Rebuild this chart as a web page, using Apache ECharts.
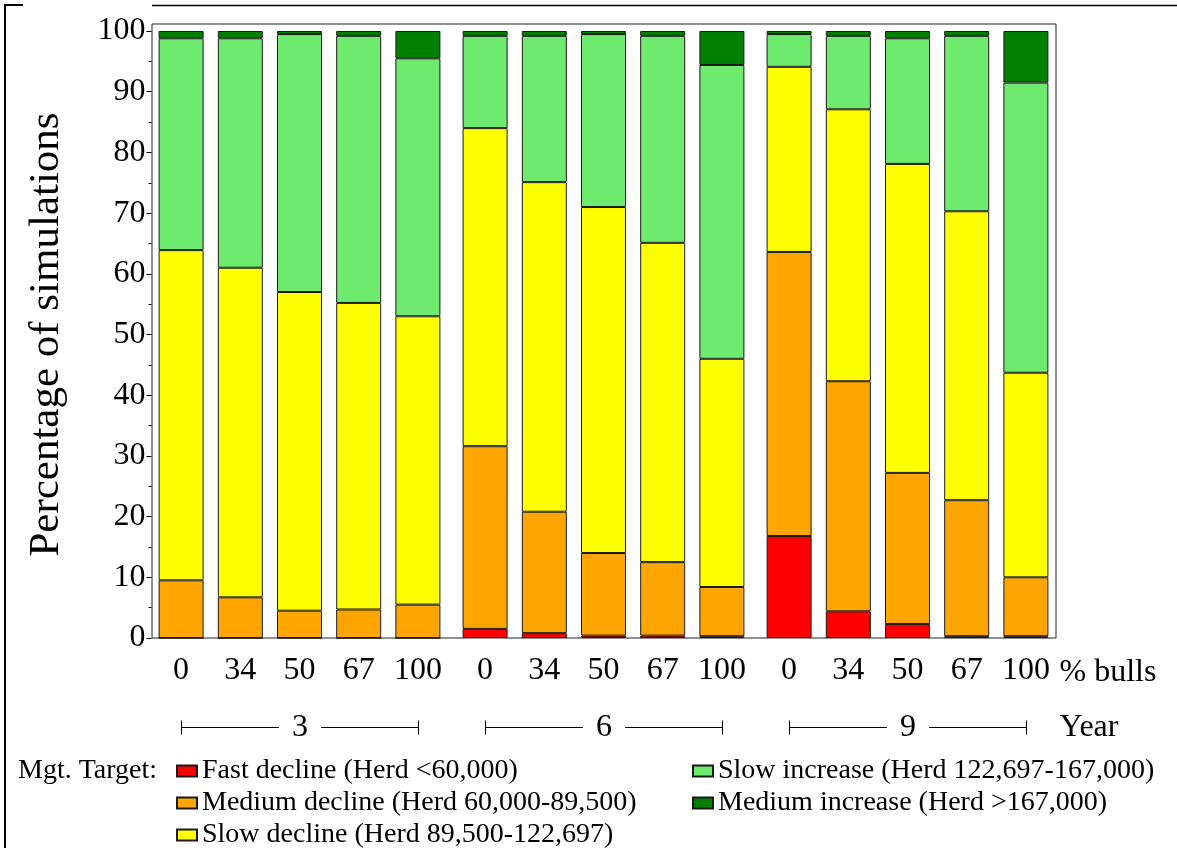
<!DOCTYPE html>
<html>
<head>
<meta charset="utf-8">
<script src="https://cdn.jsdelivr.net/npm/echarts@6/dist/echarts.min.js"></script>
<style>
  html, body { margin: 0; padding: 0; background: #fff; }
  #chart { width: 1177px; height: 848px; }
</style>
</head>
<body>
<div id="chart"></div>
<script>
// Share of bulls removed (%), repeated for every year group
const bullShares = ['0', '34', '50', '67', '100'];
const years = ['3', '6', '9'];

// Percentage of simulations ending in each herd-size band,
// 15 bars: year 3 (0..100% bulls), year 6, year 9
const fastDecline    = [0, 0, 0, 0, 0,            1.5, 0.8, 0.4, 0.4, 0.3,     16.8, 4.4, 2.3, 0.3, 0.3];
const mediumDecline  = [9.5, 6.7, 4.5, 4.7, 5.5,  30.1, 20.0, 13.6, 12.1, 8.1, 46.8, 37.9, 24.9, 22.4, 9.7];
const slowDecline    = [54.4, 54.3, 52.5, 50.5, 47.5, 52.4, 54.3, 57.0, 52.6, 37.6, 30.5, 44.8, 50.9, 47.6, 33.7];
const slowIncrease   = [34.9, 37.8, 42.5, 44.0, 42.5, 15.2, 24.1, 28.5, 34.1, 48.4, 5.4, 12.1, 20.7, 28.9, 47.8];
const mediumIncrease = [1.2, 1.2, 0.5, 0.8, 4.5,  0.8, 0.8, 0.5, 0.8, 5.6,     0.5, 0.8, 1.2, 0.8, 8.5];

const targetNames = [
  'Fast decline (Herd <60,000)',
  'Medium decline (Herd 60,000-89,500)',
  'Slow decline (Herd 89,500-122,697)',
  'Slow increase (Herd 122,697-167,000)',
  'Medium increase (Herd >167,000)'
];
const targetValues = [fastDecline, mediumDecline, slowDecline, slowIncrease, mediumIncrease];
const targetColors = ['#ff0000', '#ffa500', '#ffff00', '#6eea6e', '#008000'];

const FONT = '"Liberation Serif", "Times New Roman", serif';
const chart = echarts.init(document.getElementById('chart'), null, { renderer: 'canvas' });

// three side-by-side grids (one per year) plus a frame grid around them
const groupLeft = [151.5, 455.5, 759.5];
const grids = groupLeft.map(l => ({ left: l, top: 31, width: 296, height: 607 }));
grids.push({ left: 152, top: 24, width: 904, height: 614, show: true,
             borderColor: '#222', borderWidth: 1, backgroundColor: 'transparent' });

const xAxes = years.map((y, g) => ({
  type: 'category', gridIndex: g, data: bullShares,
  axisLine: { show: false }, axisTick: { show: false },
  axisLabel: { fontFamily: FONT, fontSize: 32, color: '#000', margin: 17, interval: 0 }
}));
xAxes.push({ type: 'category', gridIndex: 3, data: [''], show: false });

const yAxes = years.map((y, g) => {
  if (g === 0) {
    return {
      type: 'value', gridIndex: 0, min: 0, max: 100, interval: 10,
      axisLine: { show: false },
      axisTick: { show: true, length: 5, lineStyle: { color: '#000' } },
      minorTick: { show: true, splitNumber: 2, length: 3, lineStyle: { color: '#000' } },
      splitLine: { show: false },
      axisLabel: { fontFamily: FONT, fontSize: 32, color: '#000', margin: 6 },
      name: 'Percentage of simulations', nameLocation: 'middle', nameGap: 83,
      nameTextStyle: { fontFamily: FONT, fontSize: 43, color: '#000' }
    };
  }
  return { type: 'value', gridIndex: g, min: 0, max: 100, interval: 10, show: false, splitLine: { show: false } };
});
yAxes.push({ type: 'value', gridIndex: 3, min: 0, max: 100, show: false, splitLine: { show: false } });

const series = [];
targetNames.forEach((name, t) => {
  years.forEach((y, g) => {
    series.push({
      type: 'bar', name: name,
      xAxisIndex: g, yAxisIndex: g, stack: 'year' + y,
      barWidth: 45,
      data: targetValues[t].slice(g * 5, g * 5 + 5),
      itemStyle: { color: targetColors[t], borderColor: '#1a1a1a', borderWidth: 1 },
      emphasis: { disabled: true }
    });
  });
});

const legendText = { fontFamily: FONT, fontSize: 28, color: '#000', lineHeight: 32 };
const legendCommon = {
  orient: 'vertical', top: 755, height: 200, padding: 0, itemGap: 0,
  itemWidth: 20, itemHeight: 11, icon: 'rect', textStyle: legendText
};

chart.setOption({
  animation: false,
  backgroundColor: '#fff',
  title: {
    text: 'Mgt. Target:', left: 18, top: 755, padding: 0,
    textStyle: { fontFamily: FONT, fontSize: 28, fontWeight: 'normal', color: '#000', lineHeight: 32 }
  },
  legend: [
    Object.assign({ left: 176, data: targetNames.slice(0, 3) }, legendCommon),
    Object.assign({ left: 692, data: targetNames.slice(3) }, legendCommon)
  ],
  grid: grids,
  xAxis: xAxes,
  yAxis: yAxes,
  series: series
});

// Year brackets and axis captions, placed from the axes' own pixel positions
const baseY = chart.convertToPixel({ yAxisIndex: 0 }, 0);
const rowY = Math.round(baseY + 89) + 0.5;
const labelY = baseY + 35;
const graphics = [];
years.forEach((y, g) => {
  const x0 = Math.round(chart.convertToPixel({ xAxisIndex: g }, 0)) + 0.5;
  const x4 = Math.round(chart.convertToPixel({ xAxisIndex: g }, bullShares.length - 1)) + 0.5;
  const lineStyle = { stroke: '#000', lineWidth: 1 };
  graphics.push({ type: 'line', shape: { x1: x0, y1: rowY, x2: x4, y2: rowY }, style: lineStyle, silent: true });
  graphics.push({ type: 'line', shape: { x1: x0, y1: rowY - 7, x2: x0, y2: rowY + 7 }, style: lineStyle, silent: true });
  graphics.push({ type: 'line', shape: { x1: x4, y1: rowY - 7, x2: x4, y2: rowY + 7 }, style: lineStyle, silent: true });
  graphics.push({
    type: 'text', x: (x0 + x4) / 2, y: rowY, silent: true, z: 10,
    style: {
      text: y, font: '32px ' + FONT, fill: '#000', align: 'center', verticalAlign: 'middle',
      backgroundColor: '#fff', padding: [0, 13]
    }
  });
});
const plotRight = chart.convertToPixel({ xAxisIndex: 2 }, bullShares.length - 1) + 29.6;
graphics.push({
  type: 'text', x: plotRight + 4, y: labelY, silent: true,
  style: { text: '% bulls', font: '32px ' + FONT, fill: '#000', align: 'left', verticalAlign: 'middle' }
});
graphics.push({
  type: 'text', x: plotRight + 4, y: rowY, silent: true,
  style: { text: 'Year', font: '32px ' + FONT, fill: '#000', align: 'left', verticalAlign: 'middle' }
});
// page border
graphics.push({ type: 'polyline', shape: { points: [[5, 848], [5, 5], [23, 5]] },
                style: { stroke: '#000', lineWidth: 2, fill: null }, silent: true });
graphics.push({ type: 'line', shape: { x1: 152, y1: 5.5, x2: 1177, y2: 5.5 },
                style: { stroke: '#000', lineWidth: 1.5 }, silent: true });

chart.setOption({ graphic: graphics });
</script>
</body>
</html>
